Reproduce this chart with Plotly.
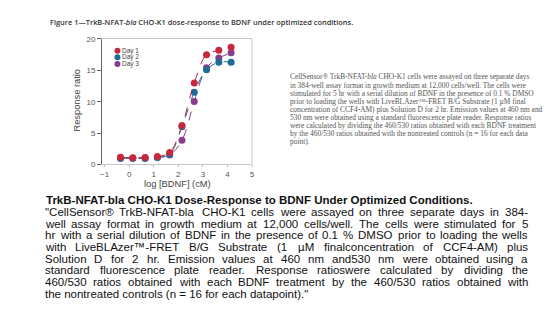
import plotly.graph_objects as go

# ---- data -------------------------------------------------------------
log_bdnf = [-0.35, 0.15, 0.65, 1.15, 1.65, 2.15, 2.65, 3.15, 3.65, 4.15]
day1 = [1.15, 1.05, 1.1, 1.25, 1.9, 6.2, 13.0, 17.5, 18.2, 18.7]
day2 = [0.95, 1.0, 0.95, 1.1, 1.6, 6.0, 11.5, 15.1, 16.3, 16.3]
day3 = [1.05, 1.0, 1.05, 1.15, 1.5, 3.85, 10.05, 15.4, 16.95, 17.8]
series_names = ["Day 1", "Day 2", "Day 3"]
series_colors = ["#c8283c", "#1d6d97", "#8a3b8d"]
x_ticks = [-1, 0, 1, 2, 3, 4, 5]
y_ticks = [0, 5, 10, 15, 20]

fig_title = ("Figure 1\u2014TrkB-NFAT-<i>bla</i> CHO-K1 dose-response to BDNF "
             "under optimized conditions.")
side_lines = [
    "CellSensor\u00ae TrkB-NFAT-<i>bla</i> CHO-K1 cells were assayed on three separate days",
    "in 384-well assay format in growth medium at 12,000 cells/well. The cells were",
    "stimulated for 5 hr with a serial dilution of BDNF in the presence of 0.1 % DMSO",
    "prior to loading the wells with LiveBLAzer\u2122-FRET B/G Substrate (1 \u00b5M final",
    "concentration of CCF4-AM) plus Solution D for 2 hr. Emission values at 460 nm and",
    "530 nm were obtained using a standard fluorescence plate reader. Response ratios",
    "were calculated by dividing the 460/530 ratios obtained with each BDNF treatment",
    "by the 460/530 ratios obtained with the nontreated controls (n = 16 for each data",
    "point).",
]
caption_title = "TrkB-NFAT-bla CHO-K1 Dose-Response to BDNF Under Optimized Conditions."
caption_lines = [
    "\"CellSensor\u00ae TrkB-NFAT-bla CHO-K1 cells were assayed on three separate days in 384-",
    "well assay format in growth medium at 12,000 cells/well. The cells were stimulated for 5",
    "hr with a serial dilution of BDNF in the presence of 0.1 % DMSO prior to loading the wells",
    "with LiveBLAzer\u2122-FRET B/G Substrate (1 \u00b5M finalconcentration of CCF4-AM) plus",
    "Solution D for 2 hr. Emission values at 460 nm and530 nm were obtained using a",
    "standard fluorescence plate reader. Response ratioswere calculated by dividing the",
    "460/530 ratios obtained with each BDNF treatment by the 460/530 ratios obtained with",
    "the nontreated controls (n = 16 for each datapoint).\"",
]

# ---- page geometry (pixels) --------------------------------------------
W, H = 549, 323


def px(x):
    return x / W


def py(y):
    return 1 - y / H


# Arial / Helvetica advance widths (1/1000 em) for justified caption text
ADV = {' ': 278, '!': 278, '"': 355, '#': 556, '$': 556, '%': 889, '&': 667,
       "'": 191, '(': 333, ')': 333, '*': 389, '+': 584, ',': 278, '-': 333,
       '.': 278, '/': 278, ':': 278, ';': 278, '<': 584, '=': 584, '>': 584,
       '?': 556, '@': 1015, '\u00ae': 737, '\u2122': 1000, '\u00b5': 576}
ADV.update({d: 556 for d in "0123456789"})
ADV.update(dict(zip("ABCDEFGHIJKLMNOPQRSTUVWXYZ",
                    [667, 667, 722, 722, 667, 611, 778, 722, 278, 500, 667, 556, 833,
                     722, 778, 667, 778, 722, 667, 611, 722, 667, 944, 667, 667, 611])))
ADV.update(dict(zip("abcdefghijklmnopqrstuvwxyz",
                    [556, 556, 500, 556, 556, 278, 556, 556, 222, 222, 500, 222, 833,
                     556, 556, 556, 556, 333, 500, 278, 556, 500, 722, 500, 500, 500])))


def text_w(s, size):
    return sum(ADV.get(c, 556) for c in s) * size / 1000.0


fig = go.Figure()

# dose-response series, dashed connecting curves through the measured points
for name, ys, color in reversed(list(zip(series_names, [day1, day2, day3], series_colors))):
    fig.add_trace(go.Scatter(
        x=log_bdnf, y=ys, name=name, mode="lines+markers",
        line=dict(color=color, width=1, dash="dash", shape="spline", smoothing=1.0),
        marker=dict(color=color, size=7, line=dict(width=0)),
        showlegend=False, hoverinfo="skip"))

AX_L, AX_R, AX_T, AX_B = 101, 252.3, 36, 165
tick_font = dict(family="Liberation Sans, Arial", size=8, color="#555555")

fig.update_layout(
    width=W, height=H, margin=dict(l=0, r=0, t=0, b=0),
    paper_bgcolor="white", plot_bgcolor="white",
    xaxis=dict(domain=[px(AX_L), px(AX_R)], range=[-1.1, 5.0], tickvals=x_ticks,
               ticks="outside", ticklen=2, tickcolor="#bbbbbb", showline=True,
               linecolor="#c8c8c8", linewidth=1, mirror=True, showgrid=False,
               zeroline=False, tickfont=tick_font, fixedrange=True),
    yaxis=dict(domain=[py(AX_B), py(AX_T)], range=[0, 20], tickvals=y_ticks,
               ticks="outside", ticklen=4, tickcolor="#666666", showline=True,
               linecolor="#666666", linewidth=1, showgrid=False, zeroline=False,
               tickfont=tick_font, fixedrange=True),
)

shapes = [dict(type="line", xref="x domain", yref="y domain", x0=1, x1=1, y0=0, y1=1,
               line=dict(color="#c8c8c8", width=1))]
annotations = []


def note(text, x, y, size, color, family, xanchor="left", **kw):
    annotations.append(dict(text=text, x=px(x), y=py(y), xref="paper", yref="paper",
                            xanchor=xanchor, yanchor="middle", showarrow=False,
                            borderpad=0, borderwidth=0,
                            font=dict(size=size, color=color, family=family), **kw))


# axis titles
note("Response ratio", 76, 99, 9.3, "#444444", "Liberation Sans, Arial",
     xanchor="center", textangle=-90)
note("log [BDNF] (cM)", 177.5, 185, 9.3, "#444444", "Liberation Sans, Arial",
     xanchor="center")

# in-plot legend
for i, (name, color) in enumerate(zip(series_names, series_colors)):
    ly = 48 + i * 6.9
    shapes.append(dict(type="circle", xref="paper", yref="paper",
                       xsizemode="pixel", ysizemode="pixel",
                       xanchor=px(116.5), yanchor=py(ly), x0=-3, x1=3, y0=-3, y1=3,
                       fillcolor=color, line=dict(width=0)))
    note(name, 121, ly, 6.5, "#444444", "Liberation Sans, Arial")

# figure heading and side description
annotations.append(dict(text=fig_title, x=px(47), y=py(19), xref="paper", yref="paper",
                        xanchor="left", yanchor="middle", showarrow=False, borderpad=0,
                        font=dict(size=7.4, color="#333333", family="Open Sans", weight=600)))
for i, line in enumerate(side_lines):
    note(line, 290.5, 75 + i * 8.35, 7.4, "#555555", "Liberation Serif, Times New Roman")

# caption below the figure
CAP_L, CAP_R, CAP_FS = 43.5, 531, 11.5
annotations.append(dict(text="<b>" + caption_title + "</b>", x=px(CAP_L), y=py(201.5),
                        xref="paper", yref="paper", xanchor="left", yanchor="middle",
                        showarrow=False, borderpad=0,
                        font=dict(size=CAP_FS, color="#111111",
                                  family="Liberation Sans, Arial")))
cap_font = "Liberation Sans, Arial"
for i, line in enumerate(caption_lines):
    y = 214 + i * 12
    words = line.split(" ")
    if i == len(caption_lines) - 1 or len(words) < 2:
        note(line, CAP_L, y, CAP_FS, "#111111", cap_font)
        continue
    widths = [text_w(w, CAP_FS) for w in words]
    gap = (CAP_R - CAP_L - sum(widths)) / (len(words) - 1)
    x = CAP_L
    for j, (w, ww) in enumerate(zip(words, widths)):
        if j == len(words) - 1:
            note(w, CAP_R, y, CAP_FS, "#111111", cap_font, xanchor="right")
        else:
            note(w, x, y, CAP_FS, "#111111", cap_font)
        x += ww + gap

fig.update_layout(shapes=shapes, annotations=annotations)
fig.write_html("out.html", config={"displayModeBar": False})
